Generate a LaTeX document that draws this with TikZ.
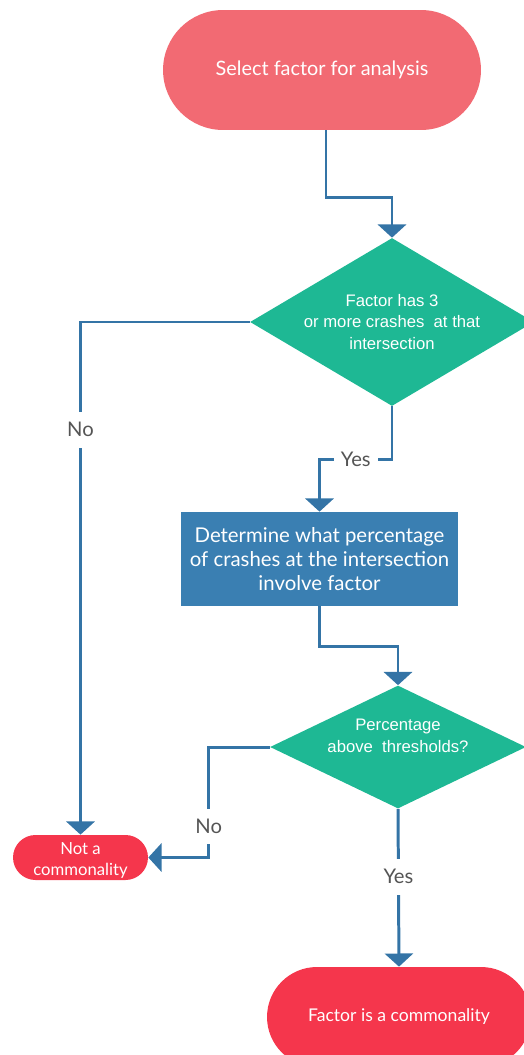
\documentclass[tikz,border=0pt]{standalone}
\usepackage{fontspec}
\setmainfont{Lato}
\newfontfamily\arialfont{Liberation Sans}
\usetikzlibrary{shapes.geometric,arrows.meta}

\definecolor{startpink}{RGB}{242,106,115}
\definecolor{endred}{RGB}{245,54,76}
\definecolor{decteal}{RGB}{30,184,148}
\definecolor{boxblue}{RGB}{58,127,178}
\definecolor{lineblue}{RGB}{52,116,166}
\definecolor{labelgray}{RGB}{85,85,85}

\begin{document}
\begin{tikzpicture}[x=0.02cm, y=-0.02cm, line join=miter,
flow/.style={draw=lineblue, line width=1.7pt, -{Triangle[width=16pt,length=7.5pt]}},
terminal/.style={rectangle, text=white, inner sep=0pt, align=center},
decision/.style={diamond, fill=decteal, inner sep=0pt},
dtext/.style={text=white, align=center, inner sep=0pt,
  font=\arialfont\fontsize{9.5}{12.5}\selectfont},
process/.style={rectangle, fill=boxblue, text=white, inner sep=0pt, align=center,
  font=\fontsize{11.6}{13.9}\selectfont},
answer/.style={fill=white, text=labelgray, inner xsep=4pt, inner ysep=6pt,
  font=\fontsize{11.5}{13}\selectfont}]

\useasboundingbox (0,0) rectangle (524,1055);
\clip (0,0) rectangle (524,1055);

% Nodes
\node[terminal, fill=startpink, minimum width=6.36cm, minimum height=2.4cm,
  rounded corners=1.2cm, font=\fontsize{11.3}{14}\selectfont] (start) at (322,70) {Select factor for analysis};
\node[decision, minimum width=5.68cm, minimum height=3.36cm] (d1) at (392,322) {};
\node[dtext] (d1text) at (d1.center) {Factor has 3\\or more crashes\ \ at that\\intersection};
\node[process, minimum width=5.54cm, minimum height=1.88cm] (work) at (319.5,559)
  {Determine what percentage\\of crashes at the intersection\\involve factor};
\node[decision, minimum width=5.12cm, minimum height=2.46cm] (d2) at (398,747) {};
\node[dtext] (d2text) at ([yshift=0.22cm]d2.center) {Percentage\\above\ \ thresholds?};
\node[terminal, fill=endred, minimum width=2.7cm, minimum height=0.9cm,
  rounded corners=0.45cm] (notc) at (80.5,857.5) {};
\node[terminal, font=\fontsize{9.5}{12}\selectfont] (notctext) at ([yshift=-0.05cm]notc.center) {Not a\\commonality};
\node[terminal, fill=endred, minimum width=5.28cm, minimum height=2cm,
  rounded corners=1cm, font=\fontsize{10}{12}\selectfont] (isc) at (399,1017) {Factor is a commonality};

% Connectors
\draw[flow] ([xshift=0.08cm]start.south) -- ++(0,67) -| (d1.north);
\draw[flow] (d1.west) -| node[answer, pos=0.605] {No} (notc.north);
\draw[flow] (d1.south) -- ++(0,53) -| node[answer, pos=0.25] {Yes} (work.north);
\draw[flow] (work.south) -- ++(0,40) -| (d2.north);
\draw[flow] (d2.west) -- ++(-61,0) |- node[answer, pos=0.36] {No} (notc.east);
\draw[flow] (d2.south) -- node[answer, pos=0.43] {Yes} (isc.north);

\end{tikzpicture}
\end{document}
